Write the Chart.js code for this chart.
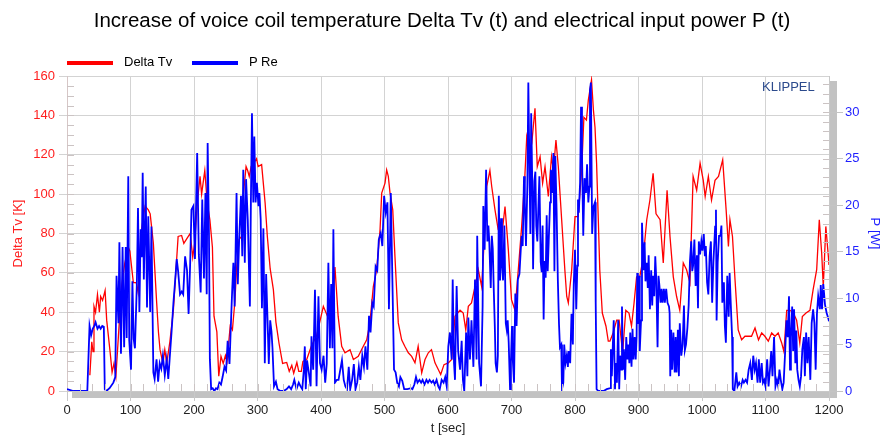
<!DOCTYPE html>
<html>
<head>
<meta charset="utf-8">
<script src="https://cdn.jsdelivr.net/npm/chart.js@4.4.1/dist/chart.umd.min.js"></script>
<style>
    html, body { margin: 0; padding: 0; background: #fff; }
    .wrap { position: relative; width: 884px; height: 436px; font-family: "Liberation Sans", Arial, sans-serif; }
    #chart { position: absolute; left: 0; top: 0; }
    .title { position: absolute; left: 0; top: 8px; width: 884px; text-align: center; font-size: 20.5px; line-height: 24px; color: #000; }
    .legend__line { position: absolute; top: 61px; width: 46px; height: 4px; }
    .legend__text { position: absolute; top: 54px; font-size: 13px; line-height: 16px; color: #000; }
    .klippel { position: absolute; left: 762px; top: 79px; font-size: 13px; line-height: 15px; color: #2b4a8c; }
</style>
</head>
<body>
<div class="wrap">
    <canvas id="chart" width="884" height="436"></canvas>
    <div class="title">Increase of voice coil temperature Delta Tv (t) and electrical input power P (t)</div>
    <div class="legend__line" style="left:67px;background:#ff0000"></div>
    <div class="legend__text" style="left:124px">Delta Tv</div>
    <div class="legend__line" style="left:192px;background:#0000ff"></div>
    <div class="legend__text" style="left:249px">P Re</div>
    <div class="klippel">KLIPPEL</div>
</div>
<script>
(() => {
    // Delta Tv [K] over t [sec]
    const tDelta = [36, 39, 41, 42.5, 45, 48, 51, 53, 56, 60, 62.5, 68, 71, 74, 77, 81, 86, 91, 96.5, 99,
        104.5, 109, 112, 116.5, 123, 128, 131, 136, 141, 144, 146.5, 151, 154, 157, 162, 167.5, 175, 180.5, 184, 188,
        194, 198, 201, 205, 209.5, 212, 217, 220, 222.5, 225, 229, 231.5, 236, 239, 242.5, 246, 249.5, 252, 257, 260.5,
        264.5, 267, 271, 275, 277.5, 282, 284.5, 287, 290, 294.5, 298.5, 301, 306.5, 312, 315.5, 320, 325, 329, 334, 339.5,
        346, 350, 354, 357, 362, 365, 369, 371.5, 377.5, 385, 393, 398, 403.7, 411.5, 417, 422, 427, 432.6, 437.8, 445.7,
        451, 458.7, 466.6, 472, 477, 482.4, 487.7, 493, 495.6, 500.8, 503.4, 506, 508.7, 513, 516.5, 521.7, 527, 532, 537.5, 542.8,
        548, 553, 558.6, 563.8, 569, 574, 579.5, 584.7, 588.5, 593.7, 600.5, 605.8, 611, 619, 624, 628, 632, 637, 642.5, 647.7,
        653, 658, 661, 666, 668.8, 674, 679, 684.5, 689.8, 695, 700, 705.5, 710.7, 716, 721, 724, 729, 732, 737, 740.6,
        745, 749, 752.8, 758, 763, 766, 770, 773.7, 779, 784, 787, 789.5, 794.8, 800, 805, 810.5, 814, 818, 821, 826,
        829, 831.5, 834, 836.7, 839, 843, 848.8, 852.4, 855, 860, 865.6, 869.5, 875, 880, 885, 889, 893, 897, 902, 907.6,
        913, 918, 923, 927.6, 934, 939, 945, 949.6, 954.8, 960, 965, 970.5, 975.7, 981, 986, 991.6, 997, 1002, 1005, 1010,
        1015, 1020.5, 1026, 1032.6, 1038, 1041.6, 1044, 1048, 1052, 1057, 1062.4, 1067.7, 1073, 1078, 1083.5, 1089, 1094, 1099, 1104.4, 1109.7,
        1115, 1120, 1125.5, 1129, 1133.4, 1138.6, 1144, 1149, 1154, 1158, 1163.8, 1170, 1175, 1180.6, 1184.7, 1188.5, 1191, 1195, 1199, 1200];
    const deltaTv = [8, 25, 20, 43, 40, 49, 40, 48, 46, 51, 36, 19.5, 9.5, 14, 7.5, 28, 53, 65, 73, 71,
        55, 55, 50, 80, 94, 92, 90, 75, 46, 30, 21, 14, 21, 14, 25, 41, 78.5, 79, 75, 77,
        80, 68, 75, 95, 109, 100, 112, 99, 92, 87, 73, 38, 30, 7.5, 17.6, 14, 18, 15, 33, 31,
        46, 62, 77, 78.5, 99, 114, 112, 109, 114, 116, 118, 114, 115, 95.5, 78.5, 62, 51.5, 35, 24, 14,
        14.5, 10, 13, 9, 14.5, 10, 10, 15, 16, 23, 28, 35, 43, 37, 34.6, 63, 38, 22.7, 19.4, 21,
        16, 17.6, 22.7, 26, 34.6, 53, 61.6, 82, 100.5, 105.6, 112.3, 109, 100.5, 92, 68, 34.6, 26, 22.7, 19.4, 17.6,
        14.3, 22.7, 9.2, 16, 19.4, 21, 14.3, 10.9, 8.4, 13.4, 14.3, 16, 38, 41, 39.6, 31, 43, 44.7, 53, 61.6,
        53, 82, 104, 112, 104, 92, 82, 78.5, 93.7, 71.8, 46.4, 41, 61.6, 83.6, 109, 129, 120.8, 126, 143.6, 114,
        119, 105.6, 114, 98.8, 119, 112, 127.5, 114, 87, 61.6, 48, 44.7, 61.6, 88.6, 88.6, 112, 139, 137.6, 147.8, 158,
        142.7, 134, 115.7, 87, 61.6, 39.6, 32.9, 25.3, 25.3, 29.5, 36, 36, 19.4, 41, 39.6, 33, 44.7, 58, 58, 68,
        87, 97, 110.6, 90, 87, 65, 102, 78.5, 58, 48, 41, 65, 61.6, 55, 109, 102, 115.7, 107, 98.8, 109,
        97, 107, 109, 117.4, 92, 73.4, 87, 78.5, 56.5, 31, 26, 27.8, 27.8, 27.8, 32, 26, 29.5, 27.8, 25.3, 29.5,
        27.8, 29.5, 24.4, 20, 41, 41, 39.6, 36, 24.4, 37.8, 39.6, 41, 51.5, 61.6, 87, 70, 53, 83.6, 68.4, 64];

    // P Re [W] over t [sec]
    const tPower = [0, 10, 20, 32, 35.5, 38, 40.5, 43, 45, 48, 50.5, 53, 55.5, 58, 59.5, 62, 67, 73, 76, 78,
        81, 82.5, 85, 87.5, 90, 92.5, 94, 96.5, 98, 100.8, 103, 105, 107, 110, 111.8, 114, 116, 117.7, 119.2, 121,
        124, 126, 128, 131, 133, 136, 138, 141, 143.5, 146, 148.5, 151, 154, 157, 159.5, 162, 164.6, 167.6, 170, 172.8,
        175, 178, 180.7, 183, 186, 189, 191.5, 194, 196, 199, 201.5, 205, 207.6, 210.5, 213, 215.7, 218, 220, 221.5, 223.6,
        225, 227, 229.4, 232, 234.7, 237, 239.9, 242.5, 245, 248, 250.6, 253, 255.9, 258.5, 260, 262, 264, 267, 269, 271,
        274, 276, 277.6, 280, 282, 284.7, 288, 289.6, 291.3, 293.4, 295, 297, 299, 301.6, 303, 305, 307, 309.3, 311.5, 313.6,
        315.7, 317.8, 320, 322, 323.6, 326, 329, 331.6, 336, 341, 346, 349.6, 353, 356, 358, 361.4, 365, 367.8, 370.5, 373,
        374.5, 376, 378, 381, 383.7, 385, 387.7, 390.5, 393, 396, 398.4, 401, 404, 406.6, 409, 411.6, 414, 416, 418, 419.5,
        422, 425, 427.6, 430.4, 433, 435.8, 438.4, 441, 443.7, 446, 449, 451.7, 454.3, 457, 459.6, 462, 465, 467.6, 470, 473,
        475.6, 478, 480.8, 483, 486, 488.6, 491, 494, 496.6, 499.4, 502, 504.6, 507, 509.9, 513, 515, 517.5, 520, 522.7, 525,
        528, 531, 536, 541.7, 544, 547, 549.6, 552, 555, 557.7, 560, 563, 566, 568.5, 571, 574, 576.6, 579, 582, 584.7,
        587, 590, 593, 595.6, 598, 600.5, 603, 605.8, 607.4, 609.5, 611, 613.6, 616, 619, 621.5, 623.5, 625.6, 628.5, 630.5, 632,
        634.6, 637, 640, 642.5, 645, 646, 649, 652, 654.5, 655.6, 657.7, 660, 662, 663.6, 665, 667.3, 669, 670.5, 672, 673.7,
        675, 677, 678.5, 680, 682, 683.6, 685, 686.7, 688.8, 691, 692.5, 694, 695.6, 697.7, 699, 700.8, 702, 704, 706, 708,
        710, 712.5, 714.6, 716, 717.6, 719.7, 721, 722.8, 725, 726.5, 728, 729.7, 731, 733, 734, 736, 737.6, 739, 740.7, 742.2,
        743.9, 746, 747.6, 749, 750.6, 752, 753.8, 755.4, 757, 758.6, 760.7, 762, 763.8, 766, 767.6, 769, 771, 773, 774.8, 776.3,
        778.4, 779.5, 781.6, 783, 785, 787, 788.8, 790, 792.4, 794.5, 796.6, 798, 800, 802, 803.7, 804.7, 806, 808, 809.5, 811,
        813, 815, 817.3, 819, 821, 822.7, 823.6, 825, 827, 829, 831.5, 832.6, 834, 836.7, 845, 850, 855.4, 856.5, 858, 859.6,
        861, 863, 864.6, 866, 868, 869.6, 871, 873, 874, 875.5, 877, 879, 880.7, 882.5, 884, 885.6, 887, 889, 890.6, 892,
        894, 895.6, 897, 898, 899, 900.8, 902, 904, 905.5, 908, 909.6, 911, 913, 914.6, 916, 918, 920, 921.6, 923, 924.8,
        926.4, 928, 930, 931.5, 933, 934.8, 936.4, 938, 940, 941.5, 943.6, 945.7, 948, 949, 950, 951.5, 953, 955, 957, 958.5,
        960, 962, 963.6, 965, 967.4, 969.5, 971.6, 973, 974.8, 977, 979, 981, 983, 984.6, 986, 988, 990, 992, 993.7, 995,
        997, 999, 1000.7, 1002.8, 1004.5, 1006, 1008, 1010, 1012, 1014, 1016, 1018, 1020.7, 1022, 1023, 1024.7, 1026.8, 1029, 1030.6, 1032,
        1034.5, 1036, 1037.6, 1039.8, 1042, 1043.5, 1045.7, 1047.4, 1048.5, 1051, 1054, 1056, 1058.6, 1061.4, 1064, 1066, 1068.6, 1071, 1073.5, 1076,
        1078.6, 1080.7, 1083, 1085, 1087.5, 1089.5, 1091.6, 1094, 1096, 1098, 1100, 1102.6, 1104.8, 1107, 1109, 1111, 1113.5, 1115.7, 1118, 1120,
        1122, 1124, 1126.5, 1128.6, 1131, 1133, 1135, 1137, 1138.6, 1140, 1142, 1143.5, 1145, 1147, 1148.6, 1150, 1152, 1154, 1156, 1158,
        1160.5, 1162, 1164, 1166, 1168, 1170.6, 1172.7, 1175, 1177, 1179, 1181, 1183, 1185.7, 1187, 1189, 1191, 1193.7, 1196.3, 1199, 1200];
    const powerRe = [0.2, 0, 0, 0, 7.0, 6.0, 6.7, 7.0, 7.4, 6.7, 7.0, 6.7, 7.0, 6.9, 0.2, 0, 0.3, 0.9, 1.5, 12.4,
        7.3, 16, 4, 15.5, 4.7, 15.5, 5.7, 23.1, 5.5, 2.3, 11.8, 5.6, 4.6, 11.5, 19.7, 8.5, 17.4, 14.4, 23.5, 12,
        22, 9, 18.8, 8.5, 17.7, 2, 1.3, 3.4, 1, 3, 2.4, 3.8, 1.7, 3.4, 1.3, 3.8, 6.3, 9.5, 11.6, 14.2,
        12.9, 10.4, 10.7, 10.4, 14.5, 13, 8.3, 13.8, 19.5, 19.9, 14.2, 25.6, 14.7, 10.6, 20.6, 12.1, 21.3, 10.4, 26.7, 16.7,
        3.4, 0.2, 0.3, 0, 0.3, 0.2, 0.9, 0.7, 1.5, 2.6, 2.2, 5.4, 2.9, 7.9, 10.6, 13.8, 9.1, 21.3, 11.5, 16.1,
        21, 14.5, 23.8, 13.8, 22.8, 18.4, 9.1, 20.3, 29.9, 20.3, 27.4, 20.3, 22.4, 19.9, 21.3, 18.5, 8.9, 17.5, 3, 12.6,
        7.9, 2.9, 7.6, 6.4, 4.6, 0.5, 1, 0.2, 0, 0, 0.2, 0.5, 0.2, 0.7, 1.2, 0.2, 0.9, 0.5, 0.2, 2.3,
        4.8, 0.2, 3.3, 1.9, 0.5, 5.9, 2.3, 10.9, 0.5, 10.2, 3, 2.3, 3.8, 0.9, 2.9, 13.8, 4.6, 11.5, 4.6, 17.4,
        0.9, 1.2, 1.2, 2.3, 3.3, 1.2, 0.5, 0.2, 2.6, 0.2, 1.2, 2.9, 0.2, 0.9, 2.6, 1.2, 3.8, 2.6, 4.8, 2.3,
        8.1, 6.3, 9.5, 9.1, 13.4, 13, 16.3, 17, 15.6, 21, 19.2, 20.3, 8.8, 21.3, 9.8, 2.3, 2, 0.9, 0.5, 1.5,
        1.1, 0.2, 0.2, 0.3, 0.2, 0.7, 1.5, 0.9, 1.2, 0.9, 1.2, 0.7, 1.2, 0.9, 1.2, 0.9, 1.1, 0.7, 1.2, 0.5,
        0.2, 1.2, 0.9, 1.5, 0.5, 4.8, 6.3, 3.4, 12, 3, 1.2, 11.3, 4.3, 2.3, 5.4, 1.2, 0, 6.3, 1.6, 7.9,
        3.4, 7.6, 2.6, 12, 3.4, 16.7, 3, 0.5, 9.1, 19.9, 15.2, 23.8, 16.1, 17.8, 16.1, 11.1, 16.7, 15.3, 11.1, 7,
        3, 2, 3.8, 21, 11.9, 18.6, 13.5, 11.9, 17.8, 7.3, 6.6, 7.6, 5.2, 0.2, 3, 7, 3.4, 0.9, 10.5, 7,
        12, 12.6, 15.2, 16.7, 15.6, 23.1, 20.3, 15.6, 22.2, 33.2, 25.4, 16.9, 29.9, 21, 13.1, 22.6, 23.6, 17.8, 16.1, 19.5,
        23.1, 13.9, 12.8, 17.8, 7.7, 14, 12.2, 18.9, 12.9, 16.1, 20.3, 23.8, 21.3, 25.6, 12.9, 25.3, 19.5, 11.9, 7.2, 4.7,
        5, 0.2, 0.9, 5, 3, 3.8, 2.6, 4.3, 3, 8.3, 5, 11.4, 15.2, 8.8, 13.5, 20.6, 19.2, 22.4, 30.6, 25.6,
        16.7, 22.9, 21.3, 24.4, 20.3, 22, 32.4, 33.2, 16.9, 19.8, 20.3, 9.5, 0.2, 0, 0, 0.2, 0.3, 4.5, 1.6, 5,
        7.6, 0.2, 3, 0.9, 7.6, 0.2, 3.8, 2.3, 9.1, 2.3, 4.5, 1.2, 5.8, 3.4, 5, 3, 6.3, 2.6, 6.7, 3.4,
        5.8, 3.4, 5.8, 12.7, 7.2, 12.4, 4.3, 7.6, 18.1, 13, 16, 11.8, 13.8, 11.1, 14.6, 8.8, 13, 9.2, 12.4, 10.2,
        14.5, 12, 4.7, 12.4, 11.3, 9.5, 11, 9.5, 11, 9.5, 11, 9.5, 9.1, 8.4, 1.6, 6.6, 2.3, 6.3, 2, 5.8,
        2, 6.6, 1.6, 7.3, 3.8, 5, 9.2, 4.4, 5, 6.8, 9.2, 13.9, 16.1, 12.9, 13.5, 16.3, 11.3, 14.6, 8.9, 16.1,
        14.7, 16.1, 15.1, 16.9, 14.5, 15.6, 11.7, 10.4, 14.5, 16.1, 9.5, 13.9, 17.7, 19.5, 7.6, 13.8, 16.7, 16.7, 17.8, 9.5,
        11.7, 7, 5.2, 12.4, 8, 12.7, 8.7, 5.8, 0.2, 0, 2, 0.5, 0.9, 0.5, 1.2, 0.9, 1.2, 0.9, 2.3, 3,
        1.2, 3.8, 2.3, 3, 0.9, 3.4, 0.9, 3, 0.9, 1.2, 0.5, 3.4, 0.5, 2.3, 4.3, 1.6, 5.8, 0.5, 1.2, 0.5,
        2.3, 1.2, 0.2, 0.9, 4.3, 7.6, 5.8, 10.2, 2.3, 5.8, 9.1, 4.3, 8.8, 3, 6.5, 2.3, 1.2, 0.5, 1.6, 4.5,
        5.8, 1.6, 6.3, 3, 5.8, 1.2, 7.3, 8.8, 7.3, 2.3, 8.3, 10.2, 8.8, 11.4, 8.8, 11.5, 9.3, 8.4, 7.8, 7.5];

    const xTicks = [0, 100, 200, 300, 400, 500, 600, 700, 800, 900, 1000, 1100, 1200];
    const tempTicks = [0, 20, 40, 60, 80, 100, 120, 140, 160];
    const powerTicks = [0, 5, 10, 15, 20, 25, 30];

    const toPoints = (xs, ys) => xs.map((x, i) => ({ x, y: ys[i] }));

    const font = { family: '"Liberation Sans", Arial, sans-serif', size: 13 };
    const gridColor = '#d3d3d3';

    // shadow bars right/bottom of the plot, under the axis ticks
    const frameShadow = {
        id: 'frameShadow',
        beforeDraw(chart) {
            const { ctx, chartArea: a } = chart;
            ctx.save();
            ctx.fillStyle = '#c2c2c2';
            ctx.fillRect(a.right + 1, a.top + 5, 7, a.bottom - a.top + 2);
            ctx.fillRect(a.left + 5, a.bottom + 1, a.right - a.left + 3, 6);
            ctx.restore();
        },
    };

    // small inner tick marks
    const minorTicks = {
        id: 'minorTicks',
        afterDraw(chart) {
            const { ctx, chartArea: a, scales } = chart;
            ctx.save();
            ctx.lineWidth = 1;
            ctx.strokeStyle = '#cbc3c3';
            ctx.beginPath();
            for (let v = 5; v < 160; v += 5) {
                const y = Math.round(scales.y.getPixelForValue(v)) + 0.5;
                ctx.moveTo(a.left, y);
                ctx.lineTo(a.left + 7, y);
            }
            for (let v = 1; v < 34; v++) {
                const y = Math.round(scales.y1.getPixelForValue(v)) + 0.5;
                ctx.moveTo(a.right - 6, y);
                ctx.lineTo(a.right, y);
            }
            for (let v = 20; v < 1200; v += 20) {
                const x = Math.round(scales.x.getPixelForValue(v)) + 0.5;
                ctx.moveTo(x, a.bottom - 7);
                ctx.lineTo(x, a.bottom);
            }
            ctx.stroke();
            ctx.restore();
        },
    };

    const keepTicks = (list) => (scale) => {
        scale.ticks = list.map((value) => ({ value }));
    };
    const plainLabel = (value) => String(value);

    new Chart(document.getElementById('chart'), {
        type: 'line',
        data: {
            datasets: [{
                label: 'Delta Tv',
                data: toPoints(tDelta, deltaTv),
                yAxisID: 'y',
                borderColor: '#ff0000',
                borderWidth: 1.3,
                pointRadius: 0,
                tension: 0,
                order: 2,
            }, {
                label: 'P Re',
                data: toPoints(tPower, powerRe),
                yAxisID: 'y1',
                borderColor: '#0000ff',
                borderWidth: 1.8,
                pointRadius: 0,
                tension: 0,
                order: 1,
            }],
        },
        options: {
            responsive: false,
            animation: false,
            devicePixelRatio: 1,
            layout: { padding: { top: 76, left: 0, right: 0, bottom: 0 } },
            plugins: {
                legend: { display: false },
                title: { display: false },
                tooltip: { enabled: false },
            },
            scales: {
                x: {
                    type: 'linear',
                    min: 0,
                    max: 1200,
                    afterBuildTicks: keepTicks(xTicks),
                    afterFit: (s) => { s.height = 45; },
                    ticks: { color: '#222', font, padding: 2, maxRotation: 0, callback: plainLabel },
                    grid: { color: gridColor, tickLength: 10, tickColor: '#c8c8c8' },
                    border: { color: '#c8c8c8' },
                    title: { display: true, text: 't [sec]', color: '#222', font, padding: { top: 4, bottom: 0 } },
                },
                y: {
                    position: 'left',
                    min: 0,
                    max: 160,
                    afterBuildTicks: keepTicks(tempTicks),
                    afterFit: (s) => { s.width = 67; },
                    ticks: { color: '#ff1e1e', font, padding: 4, callback: plainLabel },
                    grid: { color: gridColor, tickLength: 8 },
                    border: { color: '#d6c6c6' },
                    title: { display: true, text: 'Delta Tv [K]', color: '#ff1e1e', font, padding: { top: 11, bottom: 0 } },
                },
                y1: {
                    position: 'right',
                    min: 0,
                    max: 33.9,
                    afterBuildTicks: keepTicks(powerTicks),
                    afterFit: (s) => { s.width = 55; },
                    ticks: { color: '#1e1eff', font, padding: 2, callback: plainLabel },
                    grid: { drawOnChartArea: false, tickLength: 14, color: '#c4c4c4' },
                    border: { color: '#c8c8c8' },
                    title: { display: true, text: 'P [W]', color: '#1e1eff', font, padding: { top: 2, bottom: 0 } },
                },
            },
        },
        plugins: [frameShadow, minorTicks],
    });
})();
</script>
</body>
</html>
